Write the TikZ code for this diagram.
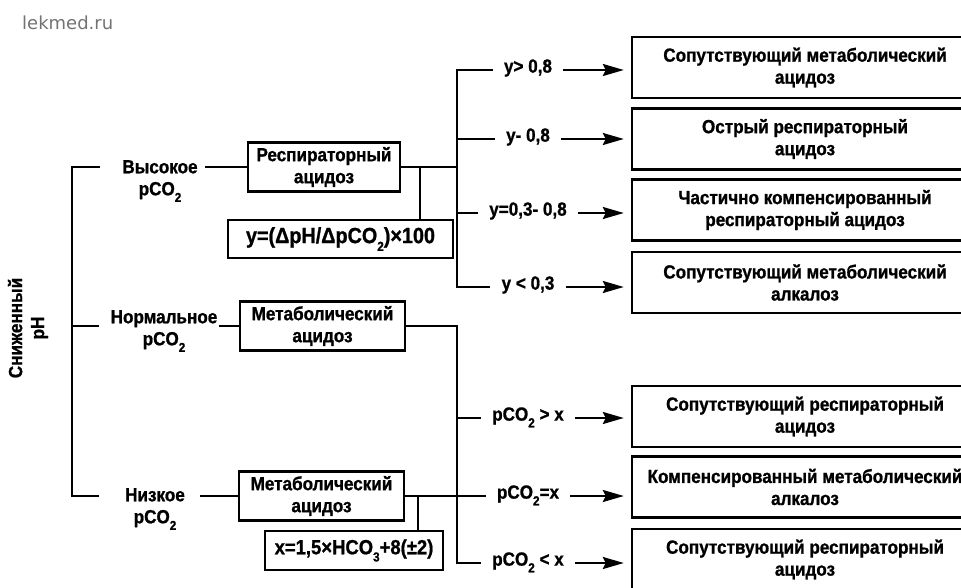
\documentclass[tikz,border=0pt]{standalone}
\usepackage{fontspec}
\setmainfont{Liberation Sans}[FakeStretch=0.9, BoldFeatures={FakeBold=1}]
\newfontfamily\wmfont{DejaVu Sans}
\usetikzlibrary{arrows.meta}
\newcommand\lowsub[1]{\raisebox{-0.35em}{\fontsize{13}{13}\selectfont #1}}
\begin{document}
\begin{tikzpicture}[x=1pt,y=-1pt,
 ln/.style={line width=2.4pt},
 txt/.style={font=\fontsize{19}{22}\selectfont\bfseries, align=center, inner sep=0pt},
 rbox/.style={txt, draw, line width=2.4pt, minimum width=346pt, minimum height=61pt},
 lbox/.style={txt, draw, line width=2.4pt, minimum height=49pt},
 fbox/.style={draw, line width=2.4pt, inner sep=0pt},
 lab/.style={txt, inner xsep=11pt},
 arr/.style={ln, -{Stealth[length=21pt,width=12pt,inset=3pt]}, shorten >=7pt},
]
\useasboundingbox (0,0) rectangle (961,588);
\clip (0,0) rectangle (961,588);

% watermark
\node[anchor=base west, font=\wmfont\fontsize{18}{18}\selectfont, text=black!55, inner sep=0pt] (wm) at (22,30) {lekmed.ru};

% right result boxes
\node[rbox] (r1) at (805,67.5) {Сопутствующий метаболический\\ацидоз};
\node[rbox] (r2) at (805,139) {Острый респираторный\\ацидоз};
\node[rbox] (r3) at (805,210) {Частично компенсированный\\респираторный ацидоз};
\node[rbox] (r4) at (805,282.5) {Сопутствующий метаболический\\алкалоз};
\node[rbox] (r5) at (805,416.5) {Сопутствующий респираторный\\ацидоз};
\node[rbox] (r6) at (805,487) {Компенсированный метаболический\\алкалоз};
\node[rbox] (r7) at (805,559.5) {Сопутствующий респираторный\\ацидоз};

% condition labels
\node[lab, anchor=mid] (l1) at (528,70) {y> 0,8};
\node[lab, anchor=mid] (l2) at (528,139) {y- 0,8};
\node[lab, anchor=mid] (l3) at (528,213) {y=0,3- 0,8};
\node[lab, anchor=mid] (l4) at (528,287) {y < 0,3};
\node[lab, anchor=mid] (l5) at (528,418) {pCO\lowsub{2} > x};
\node[lab, anchor=mid] (l6) at (528,496) {pCO\lowsub{2}=x};
\node[lab, anchor=mid] (l7) at (528,563) {pCO\lowsub{2} < x};

% middle boxes
\node[lbox, minimum width=152pt] (resp) at (324,167) {Респираторный\\ацидоз};
\node[lbox, minimum width=165pt] (met1) at (322.5,326) {Метаболический\\ацидоз};
\node[lbox, minimum width=165pt] (met2) at (321.5,496) {Метаболический\\ацидоз};
\node[fbox, minimum width=225pt, minimum height=38pt, font=\fontsize{22}{22}\selectfont\bfseries] (f1) at (340.5,239) {y=(ΔpH/ΔpCO\lowsub{2})×100};
\node[fbox, minimum width=178pt, minimum height=39pt, font=\fontsize{20.5}{22}\selectfont\bfseries] (f2) at (354,550.5) {x=1,5×HCO\lowsub{3}+8(±2)};

% left texts
\node[txt, rotate=90] (ph) at (28,328) {Сниженный\\pH};
\node[txt, anchor=north] (hi) at (160,160) {Высокое\\pCO\lowsub{2}};
\node[txt, anchor=north] (nn) at (164,310) {Нормальное\\pCO\lowsub{2}};
\node[txt, anchor=north] (lo) at (155,488) {Низкое\\pCO\lowsub{2}};

% left bracket
\coordinate (b) at (72,0);
\coordinate (t1) at (100,167);
\coordinate (t2) at (99,326);
\coordinate (t3) at (99,496);
\draw[ln] (t1) -- (b |- t1) -- (b |- t3) -- (t3);
\draw[ln] (b |- t2) -- (t2);

\coordinate (s1) at (205,167);
\coordinate (s2) at (219,326);
\coordinate (s3) at (200,496);
\draw[ln] (s1) -- (resp.west);
\draw[ln] (s2) -- (met1.west);
\draw[ln] (s3) -- (met2.west);

% upper right bracket
\coordinate (v1) at (457,0);
\coordinate (j1) at (420,0);
\draw[ln] (resp.east) -- (resp.east -| v1);
\draw[ln] (j1 |- resp.east) -- (j1 |- f1.north);
\draw[ln] (l1.mid west) -- (v1 |- l1.mid west) -- (v1 |- l4.mid west) -- (l4.mid west);
\draw[ln] (v1 |- l2.mid west) -- (l2.mid west);
\draw[ln] (v1 |- l3.mid west) -- (l3.mid west);

% lower right bracket
\coordinate (v2) at (457,0);
\coordinate (j2) at (418,0);
\draw[ln] (met1.east) -- (met1.east -| v2) -- (v2 |- l7.mid west) -- (l7.mid west);
\draw[ln] (v2 |- l5.mid west) -- (l5.mid west);
\draw[ln] (met2.east) -- (met2.east -| l6.mid west);
\draw[ln] (j2 |- met2.east) -- (j2 |- f2.north);

% arrows
\draw[arr] (l1.mid east) -- (l1.mid east -| r1.west);
\draw[arr] (l2.mid east) -- (l2.mid east -| r2.west);
\draw[arr] (l3.mid east) -- (l3.mid east -| r3.west);
\draw[arr] (l4.mid east) -- (l4.mid east -| r4.west);
\draw[arr] (l5.mid east) -- (l5.mid east -| r5.west);
\draw[arr] (l6.mid east) -- (l6.mid east -| r6.west);
\draw[arr] (l7.mid east) -- (l7.mid east -| r7.west);
\end{tikzpicture}
\end{document}
